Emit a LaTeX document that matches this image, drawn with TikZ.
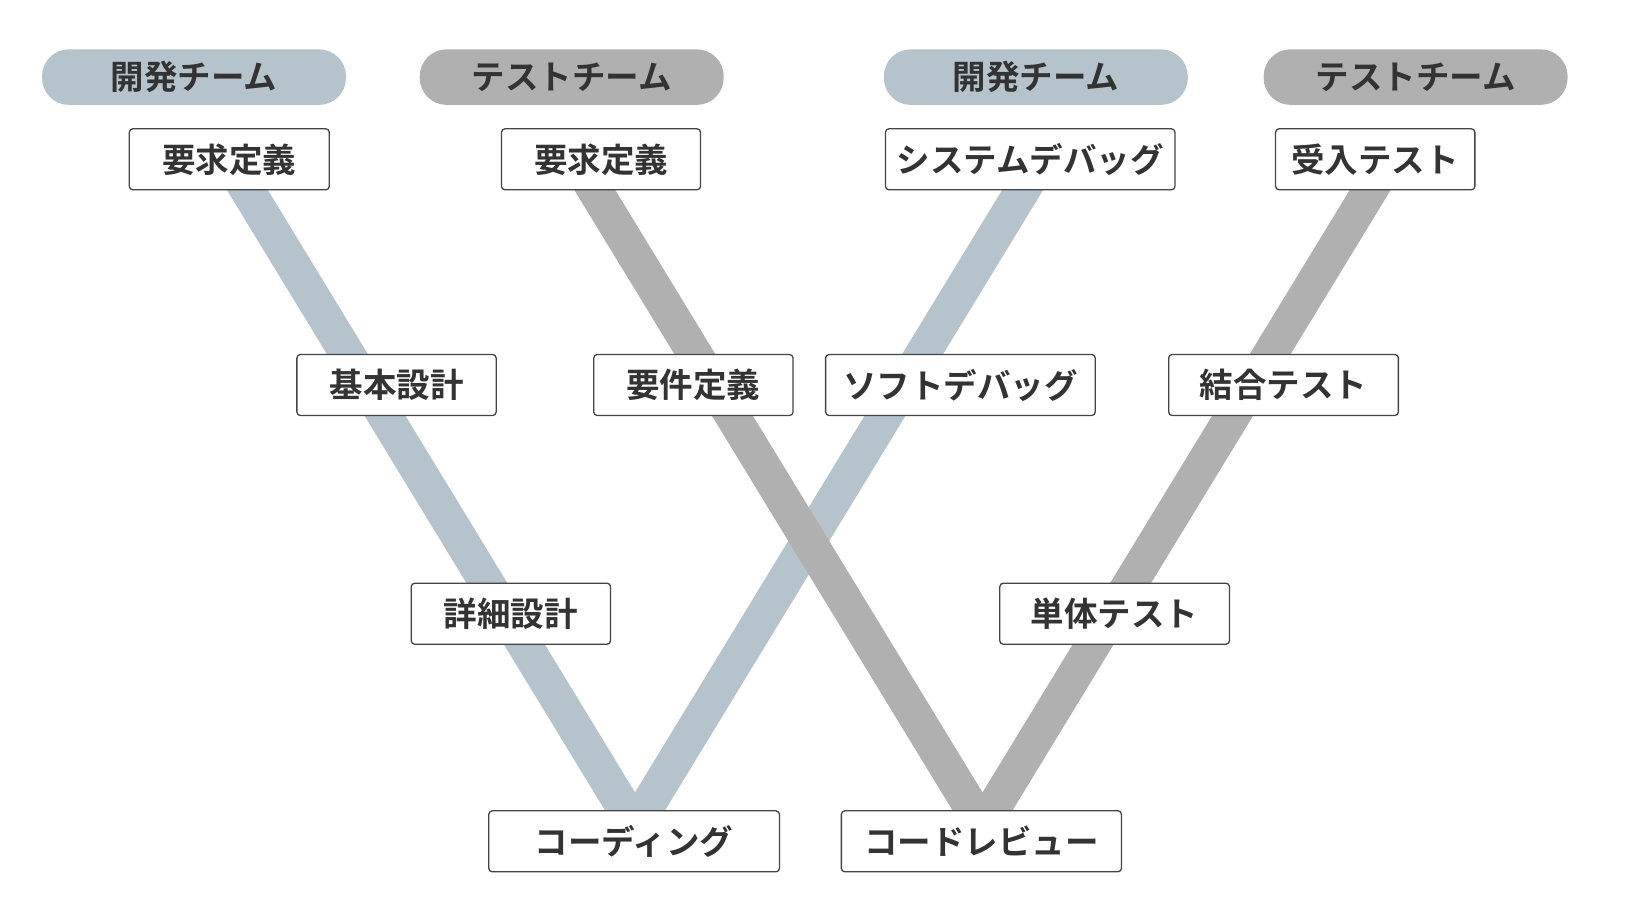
\documentclass[tikz,border=0pt]{standalone}
\usepackage{fontspec}
\newfontfamily\jp{Noto Sans CJK JP}[BoldFont={Noto Sans CJK JP Bold}]
\definecolor{devblue}{HTML}{B4C3CC}
\definecolor{testgray}{HTML}{B0B0B0}
\definecolor{txt}{HTML}{333333}
\definecolor{boxline}{HTML}{444444}
\begin{document}
\begin{tikzpicture}[x=1pt,y=-1pt,
  lbl/.style={font=\jp\bfseries\fontsize{33.5}{33.5}\selectfont, text=txt, inner sep=0pt},
  pill/.style={lbl, rounded corners=27pt, minimum width=304pt, minimum height=55.6pt},
  stepbox/.style={lbl, draw=boxline, line width=1.3pt, fill=white, rounded corners=3.5pt, minimum height=61pt},
  vline/.style={line width=35pt, line join=miter}
]
\useasboundingbox (0,0) rectangle (1645,913);
% line end points
\coordinate (bA) at (223,150);
\coordinate (bV) at (635,826);
\coordinate (bB) at (1047,150);
\coordinate (gA) at (570.4,150);
\coordinate (gV) at (982.5,826);
\coordinate (gB) at (1394.6,150);
\draw[vline, devblue] (bA) -- (bV) -- (bB);
\draw[vline, testgray] (gA) -- (gV) -- (gB);
% team pills
\node[pill, fill=devblue]  (p1) at (194,77.1)  {開発チーム};
\node[pill, fill=testgray] (p2) at (571.7,77.1) {テストチーム};
\node[pill, fill=devblue]  (p3) at (1035.8,77.1) {開発チーム};
\node[pill, fill=testgray] (p4) at (1415.6,77.1) {テストチーム};
% top row
\node[stepbox, minimum width=200pt] (r1) at (229.3,159.3) {要求定義};
\node[stepbox, minimum width=199pt] (r2) at (601,159.3) {要求定義};
\node[stepbox, minimum width=289.5pt] (r3) at (1030.2,159.3) {システムデバッグ};
\node[stepbox, minimum width=199.3pt] (r4) at (1375.2,159.3) {受入テスト};
% middle row
\node[stepbox, minimum width=199.3pt] (m1) at (396.5,385) {基本設計};
\node[stepbox, minimum width=199.3pt] (m2) at (693.4,385) {要件定義};
\node[stepbox, minimum width=269.6pt] (m3) at (960.4,385) {ソフトデバッグ};
\node[stepbox, minimum width=229.7pt] (m4) at (1283.5,385) {結合テスト};
% third row
\node[stepbox, minimum width=199.3pt] (d1) at (510.9,613.7) {詳細設計};
\node[stepbox, minimum width=229.7pt] (d2) at (1114.6,613.7) {単体テスト};
% bottom row
\node[stepbox, minimum width=290.6pt] (c1) at (634.1,841.3) {コーディング};
\node[stepbox, minimum width=280.1pt] (c2) at (981.4,841.3) {コードレビュー};
\end{tikzpicture}
\end{document}
